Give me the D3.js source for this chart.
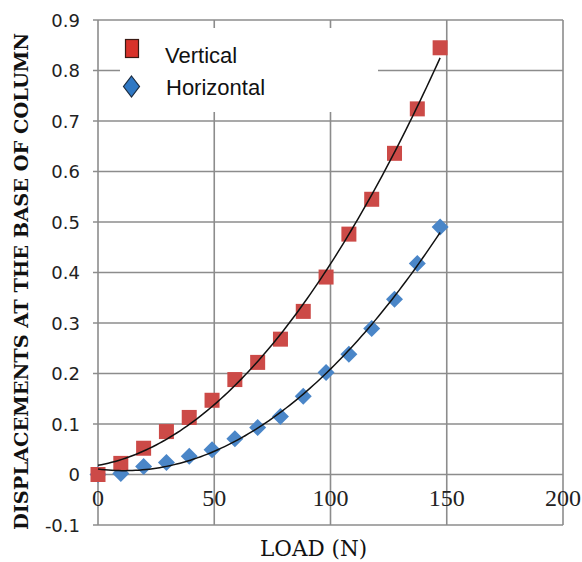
<!DOCTYPE html>
<html>
<head>
<meta charset="utf-8">
<script src="https://cdn.jsdelivr.net/npm/d3@7"></script>
<style>
  html, body { margin: 0; padding: 0; background: #fff; }
  svg { display: block; }
</style>
</head>
<body>
<div id="chart"></div>
<script>
// ---- data ----
const loads = [0, 9.81, 19.62, 29.43, 39.24, 49.05, 58.86, 68.67, 78.48, 88.29, 98.1, 107.91, 117.72, 127.53, 137.34, 147.15];
const vertical = [0, 0.022, 0.052, 0.085, 0.113, 0.147, 0.188, 0.222, 0.268, 0.323, 0.391, 0.476, 0.545, 0.636, 0.724, 0.845];
const horizontal = [0, 0.002, 0.016, 0.024, 0.036, 0.049, 0.071, 0.093, 0.115, 0.155, 0.202, 0.238, 0.289, 0.347, 0.418, 0.49];
const seriesNames = ["Vertical", "Horizontal"];
const xTicks = [0, 50, 100, 150, 200];
const xTickLabels = ["0", "50", "100", "150", "200"];
const yTicks = [-0.1, 0, 0.1, 0.2, 0.3, 0.4, 0.5, 0.6, 0.7, 0.8, 0.9];
const yTickLabels = ["-0.1", "0", "0.1", "0.2", "0.3", "0.4", "0.5", "0.6", "0.7", "0.8", "0.9"];
const xTitle = "LOAD (N)";
const yTitle = "DISPLACEMENTS AT THE BASE OF COLUMN";

const W = 582, H = 562;
const svg = d3.select("#chart").append("svg").attr("width", W).attr("height", H);
svg.append("rect").attr("width", W).attr("height", H).attr("fill", "#fff");

const x = d3.scaleLinear().domain([0, 200]).range([98, 563]);
const y = d3.scaleLinear().domain([-0.1, 0.9]).range([525, 20]);

const gridColor = "#8c8c8c";
const g = svg.append("g");

// horizontal gridlines (with small outside tick)
g.selectAll("line.hg").data(yTicks).join("line")
  .attr("x1", x(0) - 5).attr("x2", x(200))
  .attr("y1", d => y(d)).attr("y2", d => y(d))
  .attr("stroke", gridColor).attr("stroke-width", 1.6);
// vertical gridlines
g.selectAll("line.vg").data(xTicks).join("line")
  .attr("x1", d => x(d)).attr("x2", d => x(d))
  .attr("y1", y(0.9)).attr("y2", y(-0.1))
  .attr("stroke", gridColor).attr("stroke-width", 1.6);

// legend box (covers gridlines)
const lg = svg.append("g");
lg.append("rect").attr("x", 120).attr("y", 28).attr("width", 258).attr("height", 84).attr("fill", "#fff");
lg.append("rect").attr("x", 125.5).attr("y", 39.5).attr("width", 13).attr("height", 18)
  .attr("fill", "#d8322a").attr("stroke", "#3a1a14").attr("stroke-width", 1.2);
lg.append("path").attr("d", "M131.5,76 L139.5,86.5 L131.5,97 L123.5,86.5 Z")
  .attr("fill", "#2f78c4").attr("stroke", "#1c2c40").attr("stroke-width", 1.2);
lg.append("text").attr("x", 165).attr("y", 63).text(seriesNames[0])
  .attr("font-family", "Liberation Sans, Arial, sans-serif").attr("font-size", 22).attr("fill", "#111");
lg.append("text").attr("x", 166).attr("y", 95).text(seriesNames[1])
  .attr("font-family", "Liberation Sans, Arial, sans-serif").attr("font-size", 22).attr("fill", "#111");

// y tick labels
svg.selectAll("text.yl").data(yTicks).join("text")
  .attr("x", 80).attr("y", d => y(d) + 6.5)
  .attr("text-anchor", "end")
  .attr("font-family", "DejaVu Sans, sans-serif").attr("font-size", 18).attr("fill", "#222")
  .text((d, i) => yTickLabels[i]);

// x tick labels
svg.selectAll("text.xl").data(xTicks).join("text")
  .attr("x", d => x(d)).attr("y", 506)
  .attr("text-anchor", "middle")
  .attr("font-family", "Liberation Serif, Times New Roman, serif").attr("font-size", 24).attr("fill", "#222")
  .text((d, i) => xTickLabels[i]);

// axis titles
svg.append("text").attr("x", 260).attr("y", 556)
  .attr("font-family", "DejaVu Serif, serif").attr("font-size", 21.5).attr("fill", "#111")
  .text(xTitle);
svg.append("text")
  .attr("transform", "translate(28,530) rotate(-90)")
  .attr("x", 0).attr("y", 0)
  .attr("font-family", "DejaVu Serif, serif").attr("font-weight", "bold")
  .attr("font-size", 18.5).attr("fill", "#111")
  .attr("textLength", 497).attr("lengthAdjust", "spacingAndGlyphs")
  .text(yTitle);

// markers
const hData = loads.map((l, i) => [l, horizontal[i]]);
const vData = loads.map((l, i) => [l, vertical[i]]);
const dsz = 8.5;
svg.append("g").selectAll("path").data(hData).join("path")
  .attr("d", d => `M${x(d[0])},${y(d[1]) - dsz} L${x(d[0]) + dsz},${y(d[1])} L${x(d[0])},${y(d[1]) + dsz} L${x(d[0]) - dsz},${y(d[1])} Z`)
  .attr("fill", "#4a86c8");
const ssz = 15;
svg.append("g").selectAll("rect").data(vData).join("rect")
  .attr("x", d => x(d[0]) - ssz / 2).attr("y", d => y(d[1]) - ssz / 2)
  .attr("width", ssz).attr("height", ssz)
  .attr("fill", "#cc4a47");

// quadratic least-squares trendlines
function polyfit2(pts) {
  let S = [0, 0, 0, 0, 0], T = [0, 0, 0];
  pts.forEach(([a, b]) => {
    for (let k = 0; k < 5; k++) S[k] += Math.pow(a, k);
    for (let k = 0; k < 3; k++) T[k] += b * Math.pow(a, k);
  });
  const M = [[S[0], S[1], S[2], T[0]], [S[1], S[2], S[3], T[1]], [S[2], S[3], S[4], T[2]]];
  for (let i = 0; i < 3; i++) {
    let p = i;
    for (let r = i + 1; r < 3; r++) if (Math.abs(M[r][i]) > Math.abs(M[p][i])) p = r;
    [M[i], M[p]] = [M[p], M[i]];
    for (let r = 0; r < 3; r++) {
      if (r === i) continue;
      const f = M[r][i] / M[i][i];
      for (let c = i; c < 4; c++) M[r][c] -= f * M[i][c];
    }
  }
  return [M[0][3] / M[0][0], M[1][3] / M[1][1], M[2][3] / M[2][2]];
}
const line = d3.line().x(d => x(d[0])).y(d => y(d[1]));
[vData, hData].forEach(pts => {
  const c = polyfit2(pts);
  const xmax = d3.max(pts, d => d[0]);
  const curve = d3.range(0, 101).map(i => {
    const t = xmax * i / 100;
    return [t, c[0] + c[1] * t + c[2] * t * t];
  });
  svg.append("path").datum(curve).attr("d", line)
    .attr("fill", "none").attr("stroke", "#111").attr("stroke-width", 1.5);
});
</script>
</body>
</html>
